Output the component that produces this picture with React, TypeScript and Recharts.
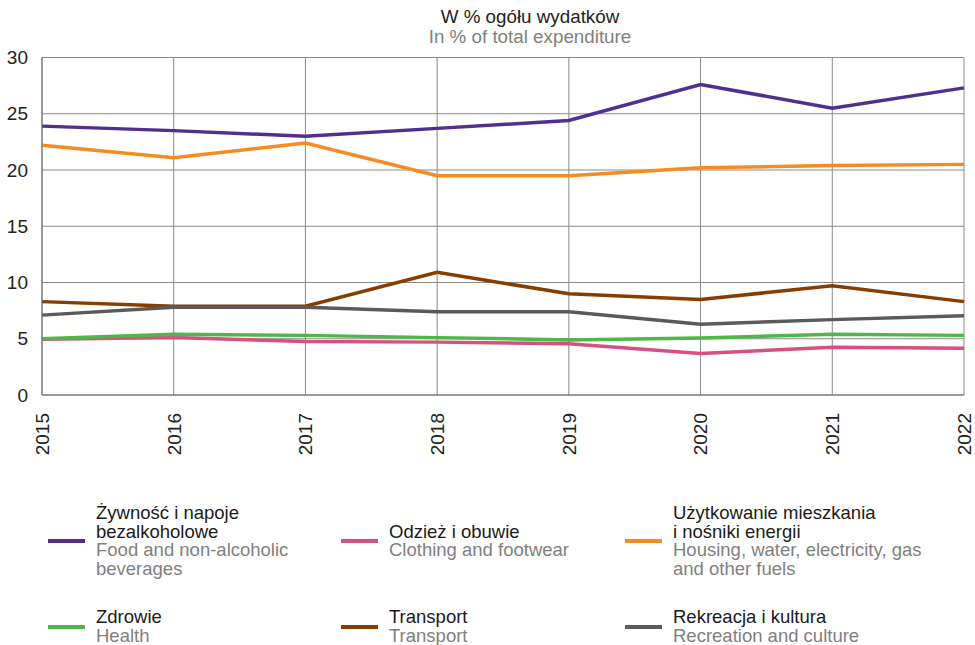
import { LineChart, Line, XAxis, YAxis, CartesianGrid } from 'recharts'

const years = ['2015', '2016', '2017', '2018', '2019', '2020', '2021', '2022']
const food = [23.9, 23.5, 23.0, 23.7, 24.4, 27.6, 25.5, 27.3]
const clothing = [4.95, 5.1, 4.75, 4.7, 4.55, 3.7, 4.25, 4.15]
const housing = [22.2, 21.1, 22.4, 19.5, 19.5, 20.2, 20.4, 20.5]
const health = [5.0, 5.4, 5.3, 5.1, 4.9, 5.07, 5.4, 5.3]
const transport = [8.3, 7.9, 7.9, 10.9, 9.0, 8.5, 9.7, 8.3]
const recreation = [7.1, 7.8, 7.8, 7.4, 7.4, 6.3, 6.7, 7.05]
const yTicks = [0, 5, 10, 15, 20, 25, 30]

const series = [
  { key: 'food', values: food, color: '#512f8f', pl: ['Żywność i napoje', 'bezalkoholowe'], en: ['Food and non-alcoholic', 'beverages'] },
  { key: 'clothing', values: clothing, color: '#d94f82', pl: ['Odzież i obuwie'], en: ['Clothing and footwear'] },
  { key: 'housing', values: housing, color: '#f68b1f', pl: ['Użytkowanie mieszkania', 'i nośniki energii'], en: ['Housing, water, electricity, gas', 'and other fuels'] },
  { key: 'health', values: health, color: '#4db748', pl: ['Zdrowie'], en: ['Health'] },
  { key: 'transport', values: transport, color: '#883d00', pl: ['Transport'], en: ['Transport'] },
  { key: 'recreation', values: recreation, color: '#5a5a5c', pl: ['Rekreacja i kultura'], en: ['Recreation and culture'] },
]

const rows = years.map((year, i) => {
  const row: Record<string, string | number> = { year }
  series.forEach(s => { row[s.key] = s.values[i] })
  return row
})

const font = 'Arial, "Liberation Sans", Helvetica, sans-serif'

function YearTick(props: any) {
  const { x, y, payload } = props
  return (
    <text x={x} y={y + 10} transform={`rotate(-90, ${x}, ${y + 10})`} textAnchor="end" dy="0.36em"
      fontSize={19} fill="#222" fontFamily={font}>
      {payload.value}
    </text>
  )
}

const legendCols = [48, 341, 625]
const legendRows = [541, 626.5]

export default function App() {
  return (
    <div style={{ position: 'absolute', left: 0, top: 0, width: 975, height: 645, background: '#fff', fontFamily: font, overflow: 'hidden' }}>
      <div style={{ position: 'absolute', left: 380, width: 300, top: 7, textAlign: 'center', fontSize: 18.8, lineHeight: '20px' }}>
        <div style={{ color: '#222' }}>W % ogółu wydatków</div>
        <div style={{ color: '#808080' }}>In % of total expenditure</div>
      </div>
      <div style={{ position: 'absolute', left: 0, top: 0 }}>
        <LineChart width={975} height={470} data={rows} margin={{ top: 57.5, right: 11, left: 0, bottom: 15 }}>
          <CartesianGrid stroke="#8a8a8a" strokeWidth={1} />
          <XAxis dataKey="year" height={60} interval={0} tick={<YearTick />} tickLine={false}
            axisLine={{ stroke: '#707070' }} />
          <YAxis domain={[0, 30]} ticks={yTicks} width={42} tickLine={false} tickMargin={8}
            axisLine={{ stroke: '#707070' }} tick={{ fontSize: 19, fill: '#222', fontFamily: font }} />
          {series.map(s => (
            <Line key={s.key} type="linear" dataKey={s.key} stroke={s.color} strokeWidth={3.5}
              dot={false} activeDot={false} isAnimationActive={false} />
          ))}
        </LineChart>
      </div>
      {series.map((s, i) => {
        const left = legendCols[i % 3]
        const center = legendRows[Math.floor(i / 3)]
        const lines = s.pl.length + s.en.length
        const h = lines * 18.5
        return (
          <div key={s.key} style={{ position: 'absolute', left, top: center - h / 2, height: h, display: 'flex', alignItems: 'center' }}>
            <div style={{ width: 37, height: 4, background: s.color, marginRight: 11 }} />
            <div style={{ fontSize: 18.5, lineHeight: '18.5px', whiteSpace: 'nowrap' }}>
              {s.pl.map(t => <div key={t} style={{ color: '#1a1a1a' }}>{t}</div>)}
              {s.en.map(t => <div key={t} style={{ color: '#7f7f7f' }}>{t}</div>)}
            </div>
          </div>
        )
      })}
    </div>
  )
}
